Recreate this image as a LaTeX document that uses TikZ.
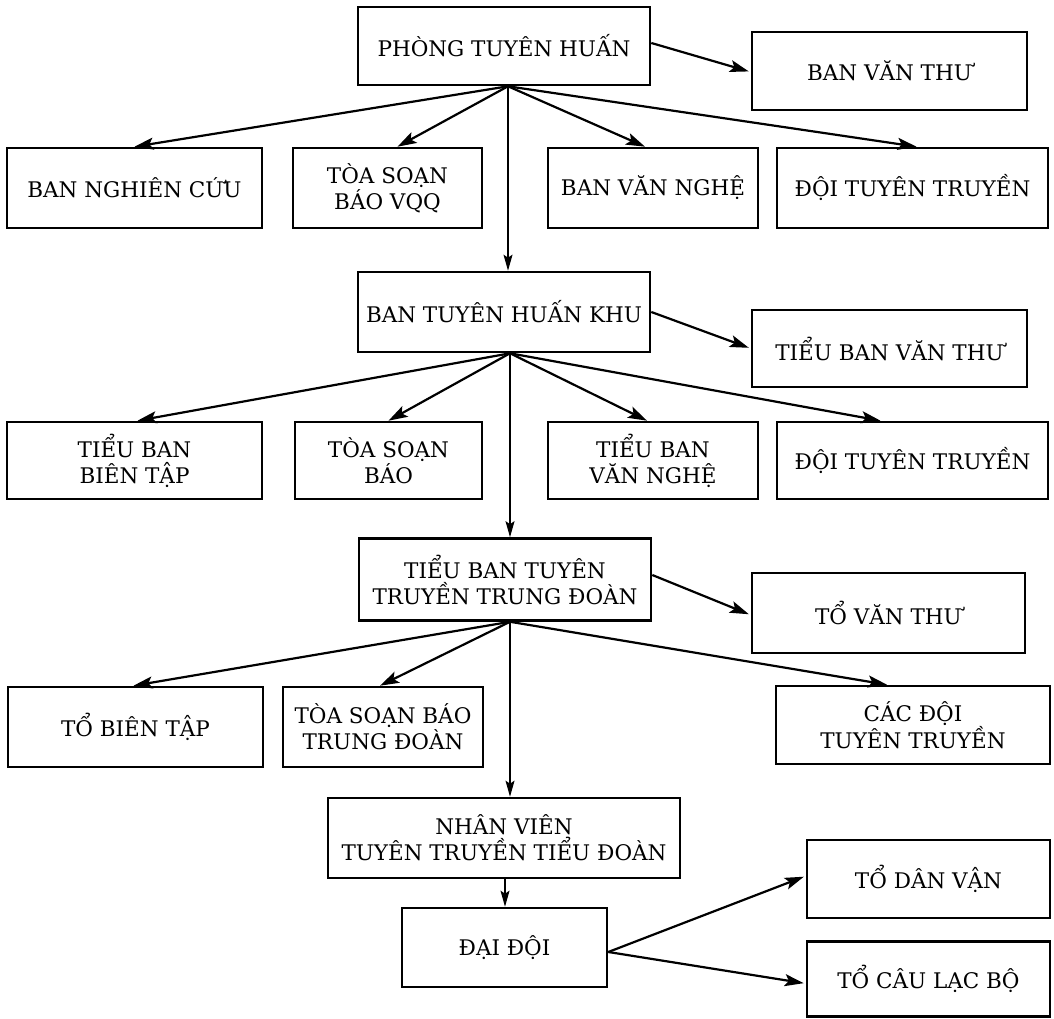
\documentclass[tikz,border=0pt]{standalone}
\usepackage{fontspec}
\setmainfont{DejaVu Serif}
\usetikzlibrary{arrows.meta}
\begin{document}
\begin{tikzpicture}[x=1pt,y=1pt,
 box/.style={draw, line width=2.6pt, rectangle, align=center, font=\fontsize{21.5}{26}\selectfont, inner sep=1pt},
 arr/.style={line width=2.2pt, -{Stealth[length=19pt,width=12pt,inset=4pt]}},
 varr/.style={line width=1.3pt, -{Stealth[length=16pt,width=9pt,inset=3pt]}}]
\useasboundingbox (0,0) rectangle (1054,1019);
% row 0
\node[box, minimum width=292pt, minimum height=78pt] (phong) at (504,973) {PHÒNG TUYÊN HUẤN};
\node[box, minimum width=275pt, minimum height=78pt] (banvt) at (889.5,948) {BAN VĂN THƯ};
% row 1
\node[box, minimum width=255pt, minimum height=80pt] (nc) at (134.5,831) {BAN NGHIÊN CỨU};
\node[box, minimum width=189pt, minimum height=80pt] (ts1) at (387.5,831) {TÒA SOẠN\\BÁO VQQ};
\node[box, minimum width=210pt, minimum height=80pt] (vn) at (653,831) {BAN VĂN NGHỆ};
\node[box, minimum width=271pt, minimum height=80pt] (doi1) at (912.5,831) {ĐỘI TUYÊN TRUYỀN};
% row 2
\node[box, minimum width=292pt, minimum height=80pt] (khu) at (504,707) {BAN TUYÊN HUẤN KHU};
\node[box, minimum width=275pt, minimum height=77pt] (tbvt) at (889.5,670.5) {TIỂU BAN VĂN THƯ};
% row 3
\node[box, minimum width=255pt, minimum height=77pt] (tbbt) at (134.5,558.5) {TIỂU BAN\\BIÊN TẬP};
\node[box, minimum width=187pt, minimum height=77pt] (ts2) at (388.5,558.5) {TÒA SOẠN\\BÁO};
\node[box, minimum width=210pt, minimum height=77pt] (tbvn) at (653,558.5) {TIỂU BAN\\VĂN NGHỆ};
\node[box, minimum width=271pt, minimum height=77pt] (doi2) at (912.5,558.5) {ĐỘI TUYÊN TRUYỀN};
% row 4
\node[box, minimum width=292pt, minimum height=82pt] (tbtt) at (505,439.5) {TIỂU BAN TUYÊN\\TRUYỀN TRUNG ĐOÀN};
\node[box, minimum width=273pt, minimum height=80pt] (tovt) at (888.5,406) {TỔ VĂN THƯ};
% row 5
\node[box, minimum width=255pt, minimum height=80pt] (tobt) at (135.5,292) {TỔ BIÊN TẬP};
\node[box, minimum width=200pt, minimum height=80pt] (ts3) at (383,292) {TÒA SOẠN BÁO\\TRUNG ĐOÀN};
\node[box, minimum width=274pt, minimum height=78pt] (cacdoi) at (913,294) {CÁC ĐỘI\\TUYÊN TRUYỀN};
% row 6
\node[box, minimum width=352pt, minimum height=80pt] (nv) at (504,181) {NHÂN VIÊN\\TUYÊN TRUYỀN TIỂU ĐOÀN};
\node[box, minimum width=205pt, minimum height=79pt] (dd) at (504.5,71.5) {ĐẠI ĐỘI};
\node[box, minimum width=243pt, minimum height=78pt] (dv) at (928.5,140) {TỔ DÂN VẬN};
\node[box, minimum width=243pt, minimum height=75pt] (clb) at (928.5,40) {TỔ CÂU LẠC BỘ};
% fan points
\coordinate (p1) at ([xshift=4pt]phong.south);
\coordinate (p2) at ([xshift=6pt]khu.south);
\coordinate (p3) at ([xshift=5pt]tbtt.south);
% vertical arrows
\draw[varr] (p1) -- (p1 |- khu.north);
\draw[varr] (p2) -- (p2 |- tbtt.north);
\draw[varr] (p3) -- (p3 |- nv.north);
\draw[varr] ([xshift=1pt]nv.south) -- ([xshift=0.5pt]dd.north);
% fan arrows
\draw[arr] (p1) -- (nc.north);
\draw[arr] (p1) -- ([xshift=10pt]ts1.north);
\draw[arr] (p1) -- ([xshift=-8pt]vn.north);
\draw[arr] (p1) -- ([xshift=4pt]doi1.north);
\draw[arr] (p2) -- ([xshift=3pt]tbbt.north);
\draw[arr] (p2) -- (ts2.north);
\draw[arr] (p2) -- ([xshift=-6pt]tbvn.north);
\draw[arr] (p2) -- ([xshift=-32pt]doi2.north);
\draw[arr] (p3) -- ([xshift=-2pt]tobt.north);
\draw[arr] (p3) -- ([xshift=-3pt]ts3.north);
\draw[arr] (p3) -- ([xshift=-26pt]cacdoi.north);
% side arrows
\draw[arr, shorten >=2pt] ([yshift=3pt]phong.east) -- ([yshift=-1pt]banvt.west);
\draw[arr, shorten >=2pt] (khu.east) -- (tbvt.west);
\draw[arr, shorten >=2pt] ([yshift=4.5pt]tbtt.east) -- ([yshift=-2pt]tovt.west);
\draw[arr, shorten >=2pt] ([yshift=-4.5pt]dd.east) -- ([yshift=3pt]dv.west);
\draw[arr, shorten >=2pt] ([yshift=-4.5pt]dd.east) -- ([yshift=-4.5pt]clb.west);
\end{tikzpicture}
\end{document}
